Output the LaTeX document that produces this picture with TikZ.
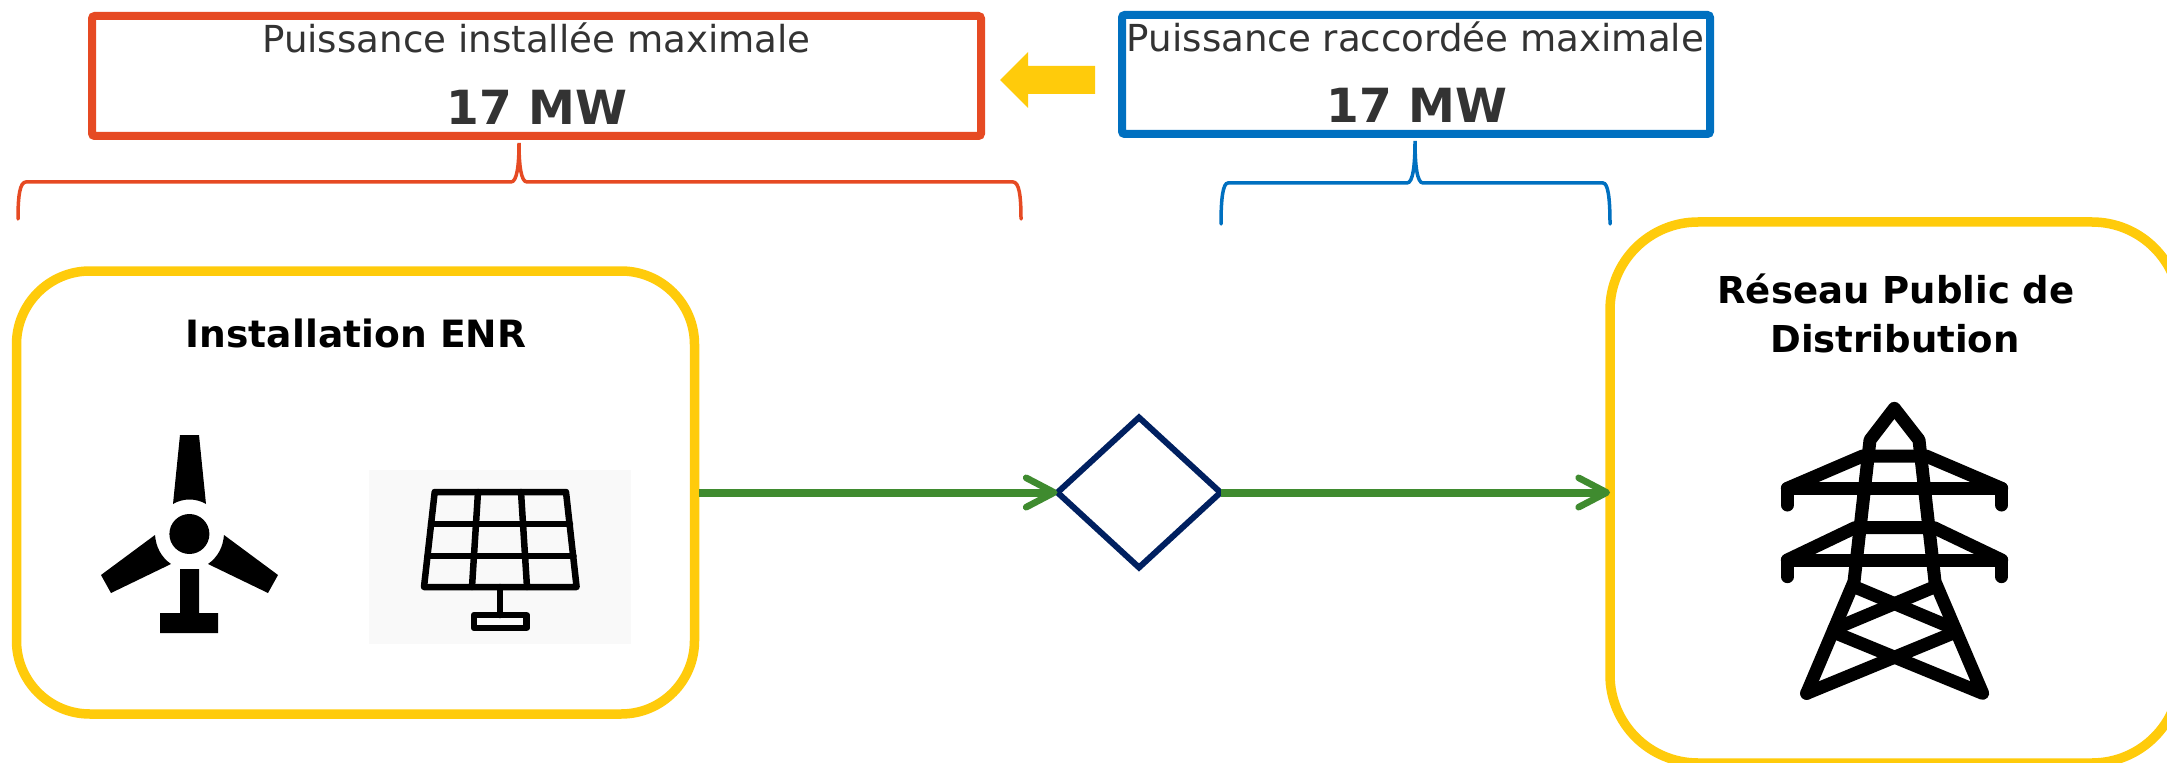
\documentclass[tikz,border=0pt]{standalone}
\usepackage{fontspec}
\setmainfont{DejaVu Sans}
\usetikzlibrary{shapes.geometric,arrows.meta}
\definecolor{redc}{HTML}{E64A23}
\definecolor{bluec}{HTML}{0070C0}
\definecolor{yellowc}{HTML}{FFCB0B}
\definecolor{greenc}{HTML}{3F8B2F}
\definecolor{navyc}{HTML}{002060}
\definecolor{textc}{HTML}{333333}
\definecolor{panelbg}{HTML}{F9F9F9}
\tikzset{
  px/.style={line width=#1*0.75pt},
  valuebox/.style={draw=#1,px=8,rectangle,rounded corners=2pt,fill=white,inner sep=0pt,outer sep=0pt,anchor=north west},
  sitebox/.style={draw=yellowc,px=9.5,rectangle,inner sep=0pt,outer sep=0pt,anchor=north west},
  captiontext/.style={text=textc,font=\fontsize{27.9}{30}\selectfont,anchor=base,inner sep=0pt},
  valuetext/.style={text=textc,font=\fontsize{35.3}{40}\selectfont\bfseries,anchor=base,inner sep=0pt},
  sitetext/.style={text=black,font=\fontsize{27.8}{30}\selectfont\bfseries,anchor=base,inner sep=0pt},
  flow/.style={draw=greenc,px=8,-{Straight Barb[length=21pt,width=22pt,line width=5pt,round]}},
  bracket/.style={px=3.5,line cap=round},
  icon/.style={draw=black,line join=round,line cap=round},
}
\begin{document}
\begin{tikzpicture}[x=0.75pt,y=-0.75pt]
\clip (0,0) rectangle (2167,763);
\fill[white] (0,0) rectangle (2167,763);

% value boxes
\node[valuebox=redc,minimum width=889*0.75pt,minimum height=120*0.75pt] (installed) at (92,16) {};
\node[valuebox=bluec,minimum width=588*0.75pt,minimum height=119*0.75pt] (connected) at (1122,15) {};
\node[captiontext] (installedcap) at (536.5,53) {Puissance installée maximale};
\node[valuetext] (installedval) at (537,125) {17 MW};
\node[captiontext] (connectedcap) at (1415.5,52) {Puissance raccordée maximale};
\node[valuetext] (connectedval) at (1417,123) {17 MW};

% yellow arrow
\fill[yellowc] (1000,80) -- (1028,52) -- (1028,66) -- (1095,66) -- (1095,94) -- (1028,94) -- (1028,108) -- cycle;

% brackets
\draw[bracket,redc] (18,219) .. controls (18,195) and (20,182) .. (26,182) -- (511,182) .. controls (517,182) and (519,165) .. (519,143) .. controls (519,165) and (521,182) .. (527,182) -- (1013,182) .. controls (1019,182) and (1021,195) .. (1021,219);
\draw[bracket,bluec] (1221,224) .. controls (1221,198) and (1223,183) .. (1228,183) -- (1407,183) .. controls (1413,183) and (1415,165) .. (1415,141) .. controls (1415,165) and (1417,183) .. (1423,183) -- (1603,183) .. controls (1608,183) and (1610,198) .. (1610,224);

% site boxes
\node[sitebox,rounded corners=55pt,minimum width=678*0.75pt,minimum height=443*0.75pt] (enr) at (16.5,271) {};
\node[sitebox,rounded corners=66pt,minimum width=570*0.75pt,minimum height=541*0.75pt] (grid) at (1610,222) {};
\node[sitetext,font=\fontsize{28.2}{30}\selectfont\bfseries] (enrtitle) at (356,347) {Installation ENR};
\node[sitetext] (gridtitle1) at (1896,303) {Réseau Public de};
\node[sitetext] (gridtitle2) at (1895,352) {Distribution};

% diamond and flows
\node[diamond,draw=navyc,px=6,minimum width=163*0.75pt,minimum height=150*0.75pt,inner sep=0pt,outer sep=0pt] (meter) at (1139,492.5) {};
\draw[flow,shorten <=3.4pt] (enr.east) -- (meter.west);
\draw[flow] (meter.east) -- (grid.west);

% wind turbine
\fill (180,435) -- (199,435) -- (206,504) .. controls (196,498) and (183,498) .. (173,504) -- cycle;
\fill (189.4,534) circle (20);
\fill (180,569) -- (199,569) -- (199,613) -- (218,613) -- (218,633) -- (160,633) -- (160,613) -- (180,613) -- cycle;
\fill (155,535) -- (101,575) -- (111,593) -- (171,564) .. controls (161,557) and (156,547) .. cycle;
\fill (224,535) -- (278,575) -- (268,593) -- (208,564) .. controls (218,557) and (223,547) .. cycle;

% solar panel
\fill[panelbg] (368.5,470) rectangle (630.6,644);
\draw[icon,px=6.5] (434.7,492) -- (566,492) -- (576.6,587) -- (424,587) -- cycle;
\draw[icon,px=6.5] (431,524) -- (570,524);
\draw[icon,px=6.5] (427.5,556) -- (573.5,556);
\draw[icon,px=6.5] (478,492) -- (472,587);
\draw[icon,px=6.5] (521,492) -- (527,587);
\draw[icon,px=6.5] (500,587) -- (500,615);
\draw[icon,px=6.5] (474,615) rectangle (526.6,628);

% pylon
\begin{scope}[shift={(1740,380)},x=0.25pt,y=-0.25pt]
\draw[icon,px=13] (200,940) -- (342,605) -- (390,180) -- (463,85) -- (537,180) -- (585,605) -- (728,940) -- (282,757);
\draw[icon,px=13] (200,940) -- (645,757);
\draw[icon,px=13] (342,620) -- (645,747);
\draw[icon,px=13] (585,620) -- (282,747);
\draw[icon,px=13] (142,375) -- (142,325) -- (785,325) -- (785,375);
\draw[icon,px=13] (142,325) -- (368,228) -- (558,228) -- (785,325);
\draw[icon,px=13] (142,590) -- (142,540) -- (785,540) -- (785,590);
\draw[icon,px=13] (142,540) -- (345,443) -- (582,443) -- (785,540);
\end{scope}
\end{tikzpicture}
\end{document}
